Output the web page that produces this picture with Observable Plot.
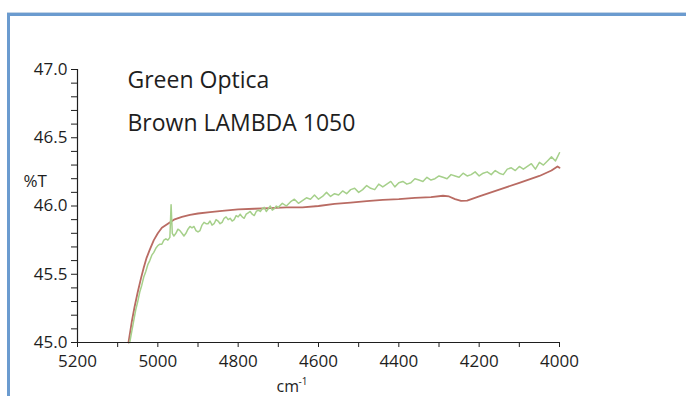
<!DOCTYPE html>
<html><head><meta charset="utf-8">
<script src="https://cdn.jsdelivr.net/npm/d3@7"></script>
<script src="https://cdn.jsdelivr.net/npm/@observablehq/plot@0.6"></script>
<style>
html,body{margin:0;padding:0;background:#fff;overflow:hidden;}
#chart{position:absolute;left:0;top:0;width:686px;height:396px;overflow:hidden;}
</style></head><body>
<div id="chart"></div>
<script>
const xMajorTicks = [5200, 5000, 4800, 4600, 4400, 4200, 4000];
const xMinorTicks = [5100, 4900, 4700, 4500, 4300, 4100];
const yMajorTicks = [45.0, 45.5, 46.0, 46.5, 47.0];
const yMinorTicks = [45.1,45.2,45.3,45.4,45.6,45.7,45.8,45.9,46.1,46.2,46.3,46.4,46.6,46.7,46.8,46.9];
const legendLabels = ["Green Optica", "Brown LAMBDA 1050"];

const brownCm = [5073,5065,5058,5050,5042,5035,5028,5020,5010,5000,4990,4975,4960,4940,4920,4900,4870,4840,4800,4760,4720,4680,4640,4600,4560,4520,4480,4440,4400,4360,4320,4290,4275,4260,4245,4230,4200,4150,4100,4050,4020,4005,4000];
const brownT  = [45.00,45.15,45.26,45.37,45.47,45.55,45.62,45.68,45.75,45.80,45.84,45.87,45.90,45.92,45.935,45.945,45.955,45.965,45.975,45.98,45.985,45.99,45.99,46.00,46.015,46.025,46.035,46.045,46.05,46.06,46.065,46.075,46.07,46.05,46.037,46.04,46.07,46.12,46.17,46.22,46.26,46.29,46.28];

const greenCm = [5070,5065,5060,5055,5050,5045,5040,5035,5030,5025,5020,5015,5010,5005,5000,4995,4990,4985,4980,4975,4970,
  4967,4964,
  4960,4955,4950,4945,4940,4935,4930,4925,4920,4915,4910,4905,4900,4895,4890,4885,4880,4875,4870,4865,4860,4855,4850,4845,4840,4835,4830,4825,4820,4815,4810,4805,4800,4795,4790,4785,4780,4775,4770,4765,4760,4755,4750,4745,4740,4735,4730,4725,4720,4715,4710,4705,4700,
  4690,4680,4670,4660,4650,4640,4630,4620,4610,4600,4590,4580,4570,4560,4550,4540,4530,4520,4510,4500,4490,4480,4470,4460,4450,4440,4430,4420,4410,4400,4390,4380,4370,4360,4350,4340,4330,4320,4310,4300,4290,4280,4270,4260,4250,4240,4230,4220,4210,4200,4190,4180,4170,4160,4150,4140,4130,4120,4110,4100,4090,4080,4070,4060,4050,4040,4030,4020,4010,
  4005,4000];
const greenT  = [45.00,45.08,45.16,45.24,45.30,45.37,45.42,45.48,45.52,45.57,45.60,45.64,45.66,45.69,45.71,45.72,45.72,45.75,45.76,45.75,45.77,
  46.01,45.80,
  45.78,45.80,45.83,45.82,45.80,45.78,45.80,45.83,45.85,45.84,45.85,45.82,45.81,45.82,45.86,45.88,45.87,45.87,45.89,45.86,45.87,45.90,45.89,45.87,45.88,45.91,45.92,45.90,45.91,45.89,45.90,45.93,45.92,45.94,45.92,45.91,45.94,45.95,45.96,45.94,45.93,45.96,45.97,45.96,45.98,45.99,45.96,45.98,46.00,45.97,45.98,46.00,45.99,
  46.02,46.00,46.03,46.05,46.02,46.04,46.06,46.05,46.08,46.05,46.07,46.10,46.07,46.09,46.08,46.11,46.09,46.12,46.13,46.10,46.12,46.15,46.13,46.12,46.16,46.14,46.16,46.18,46.14,46.17,46.18,46.16,46.17,46.20,46.19,46.18,46.21,46.19,46.20,46.22,46.21,46.20,46.23,46.22,46.21,46.24,46.22,46.23,46.25,46.22,46.24,46.25,46.23,46.26,46.24,46.23,46.27,46.28,46.26,46.29,46.27,46.29,46.31,46.27,46.32,46.30,46.33,46.36,46.33,46.36,
  46.39,46.36];

const brown = brownCm.map((c, i) => ({cm: c, t: brownT[i]}));
const green = greenCm.map((c, i) => ({cm: c, t: greenT[i]}));

const ink = "#1e1e1e";
const chart = Plot.plot({
  width: 686, height: 396,
  marginLeft: 77, marginRight: 127, marginTop: 69, marginBottom: 54,
  style: {fontFamily: "'Open Sans', sans-serif", background: "transparent", color: ink, overflow: "hidden"},
  x: {domain: [5200, 4000]},
  y: {domain: [45, 47]},
  marks: [
    Plot.line(brown, {x: "cm", y: "t", stroke: "#b96b63", strokeWidth: 1.8}),
    Plot.line(green, {x: "cm", y: "t", stroke: "#a6d08b", strokeWidth: 1.5}),
    Plot.axisY({ticks: yMinorTicks, tickSize: 6, tickFormat: () => "", label: null, stroke: ink}),
    Plot.axisY({ticks: yMajorTicks, tickSize: 6, tickPadding: 4, tickFormat: d => d.toFixed(1), label: null, fontSize: 17, stroke: ink, fill: ink}),
    Plot.axisX({ticks: xMinorTicks, tickSize: 5, tickFormat: () => "", label: null, stroke: ink}),
    Plot.axisX({ticks: xMajorTicks, tickSize: 5, tickPadding: 7, tickFormat: d => String(d), label: null, fontSize: 17, stroke: ink, fill: ink}),
    Plot.ruleX([5200], {stroke: ink, strokeWidth: 1.2}),
    Plot.ruleY([45], {stroke: ink, strokeWidth: 1.2}),
    Plot.text([legendLabels[0]], {text: d => d, frameAnchor: "top-left", dx: 50, dy: 18, textAnchor: "start", lineAnchor: "bottom", fontSize: 23, fill: ink}),
    Plot.text([legendLabels[1]], {text: d => d, frameAnchor: "top-left", dx: 50, dy: 61, textAnchor: "start", lineAnchor: "bottom", fontSize: 23, fill: ink}),
    Plot.text(["%T"], {text: d => d, frameAnchor: "top-left", dx: -54, dy: 117, textAnchor: "start", lineAnchor: "bottom", fontSize: 17, fill: ink}),
    Plot.text(["cm"], {text: d => d, frameAnchor: "bottom-left", dx: 199, dy: 49, textAnchor: "start", lineAnchor: "bottom", fontSize: 16, fill: ink}),
    Plot.text(["-1"], {text: d => d, frameAnchor: "bottom-left", dx: 221, dy: 42, textAnchor: "start", lineAnchor: "bottom", fontSize: 10, fill: ink})
  ]
});
// decorative panel frame (top and left edges only)
const svg = d3.select(chart);
const frame = svg.insert("g", ":first-child").attr("class", "panel-frame");
frame.append("path").attr("d", "M7,12.5H686").attr("stroke", "#c3d4e6").attr("stroke-width", 1).attr("fill", "none");
frame.append("path").attr("d", "M8.5,396V14.5").attr("stroke", "#6b9bcf").attr("stroke-width", 3).attr("fill", "none");
frame.append("path").attr("d", "M7,14.5H686").attr("stroke", "#6b9bcf").attr("stroke-width", 3).attr("fill", "none");
document.getElementById("chart").appendChild(chart);
</script>
</body></html>
